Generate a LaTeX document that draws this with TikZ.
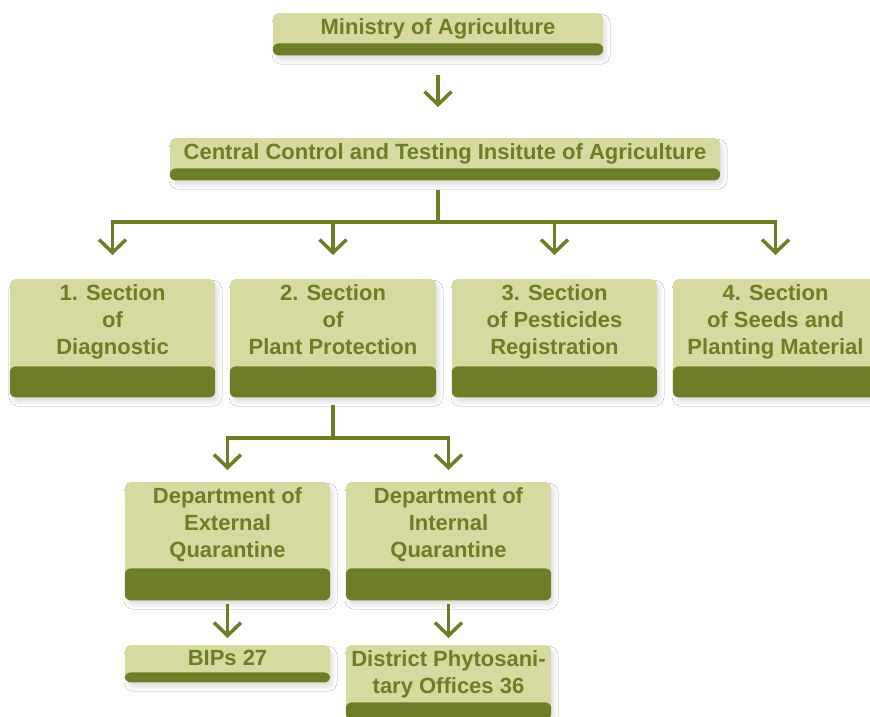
\documentclass[tikz,border=0pt]{standalone}
\usepackage{fontspec}
\setmainfont{Liberation Sans}
\usetikzlibrary{arrows.meta,shadows.blur}
\definecolor{leaf}{RGB}{110,125,40}
\definecolor{straw}{RGB}{214,218,160}
\tikzset{
	unit/.style={fill=straw, rounded corners=5pt, inner sep=0pt,
		blur shadow={shadow xshift=3pt, shadow yshift=-5pt, shadow blur radius=4pt, shadow opacity=12}},
	band/.style={fill=leaf, rounded corners=6pt},
	lbl/.style={text=leaf, font=\bfseries\fontsize{22}{27}\selectfont, align=center, inner sep=0pt, anchor=north},
	link/.style={draw=leaf, line width=3.5pt},
	conn/.style={link, -{Straight Barb[length=13pt, width=27pt]}}
}
% name, centre x, top y, width, height, band height, text
\newcommand{\unitbox}[7]{%
	\node[unit, minimum width=#4pt, minimum height=#5pt, anchor=north] (#1) at (#2,#3) {};
	\path[band] ([yshift=#6pt]#1.south west) rectangle (#1.south east);
	\node[lbl] (#1-t) at ([yshift=-5pt]#1.north) {#7};
}
\begin{document}
\begin{tikzpicture}[x=1pt, y=-1pt, line join=miter]
	\fill[white] (0,0) rectangle (870,716);
	\useasboundingbox (0,0) rectangle (870,716);
	\clip (0,0) rectangle (870,716);
	% head
	\unitbox{min}{438}{13}{330}{42}{12}{Ministry of Agriculture}
	\unitbox{cen}{445}{138}{550}{42}{12}{Central Control and Testing Insitute of Agriculture}
	% sections
	\unitbox{s1}{112.5}{279}{205}{118}{31}{1. Section\\of\\Diagnostic}
	\unitbox{s2}{333}{279}{206}{118}{31}{2. Section\\of\\Plant Protection}
	\unitbox{s3}{554.5}{279}{205}{118}{31}{3. Section\\of Pesticides\\Registration}
	\unitbox{s4}{775.5}{279}{205}{118}{31}{4. Section\\of Seeds and\\Planting Material}
	% departments
	\unitbox{ext}{227.5}{482}{205}{118}{32}{Department of\\External\\Quarantine}
	\unitbox{int}{448.5}{482}{205}{118}{32}{Department of\\Internal\\Quarantine}
	\unitbox{bip}{227.5}{645}{205}{37}{10}{BIPs 27}
	\unitbox{dpo}{448.5}{645}{205}{74}{17}{District Phytosani-\\tary Offices 36}
	% connectors
	\draw[conn, shorten <=20pt, shorten >=31pt] (min.south) -- (min.south |- cen.north);
	\coordinate (bus) at (438,222);
	\draw[link, shorten <=10pt] (min.south |- cen.south) -- (bus);
	\foreach \s in {s1,s2,s3,s4}
		\draw[conn, shorten >=24pt] (bus) -| (\s.north);
	\coordinate (fork) at (333,438);
	\draw[link, shorten <=8pt] (s2.south) -- (fork);
	\foreach \d in {ext,int}
		\draw[conn, shorten >=12pt] (fork) -| (\d.north);
	\draw[conn, shorten <=4pt, shorten >=7pt] (ext.south) -- (bip.north);
	\draw[conn, shorten <=4pt, shorten >=7pt] (int.south) -- (dpo.north);
\end{tikzpicture}
\end{document}
